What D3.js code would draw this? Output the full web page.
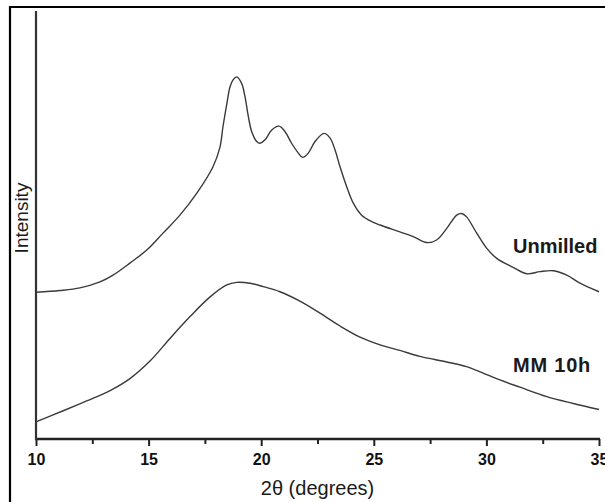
<!DOCTYPE html>
<html>
<head>
<meta charset="utf-8">
<script src="https://cdn.jsdelivr.net/npm/d3@7"></script>
<style>
  html, body { margin: 0; padding: 0; background: #fff; }
  svg { display: block; font-family: "Liberation Sans", Arial, Helvetica, sans-serif; }
</style>
</head>
<body>
<svg id="chart" width="605" height="502"></svg>
<script>
// 2θ positions (degrees) and intensities (arbitrary units)
const unmilledTheta = [10.00, 11.07, 11.95, 12.84, 13.42, 14.17, 14.93, 15.64, 16.39, 17.15, 17.86, 18.17, 18.30, 18.48, 18.61, 18.75, 18.91, 19.13, 19.28, 19.43, 19.58, 19.80, 19.95, 20.17, 20.47, 20.79, 21.06, 21.35, 21.65, 21.84, 22.09, 22.39, 22.79, 23.06, 23.28, 23.50, 23.80, 24.09, 24.46, 24.91, 25.28, 26.16, 26.75, 27.35, 27.79, 28.24, 28.68, 28.90, 29.12, 29.57, 30.01, 30.46, 31.19, 31.79, 32.38, 32.97, 33.57, 34.16, 35.00];
const unmilledIntensity = [343, 347, 353, 367, 383, 411, 442, 481, 523, 575, 636, 682, 729, 785, 822, 839, 846, 831, 800, 753, 718, 695, 691, 699, 722, 731, 718, 691, 668, 658, 668, 695, 714, 703, 675, 636, 589, 551, 523, 508, 500, 484, 473, 459, 465, 492, 523, 527, 519, 481, 446, 422, 401, 386, 391, 393, 383, 364, 344];

const milledTheta = [10.00, 11.21, 12.25, 13.29, 14.17, 15.06, 15.95, 16.84, 17.73, 18.47, 18.91, 19.50, 20.09, 20.83, 21.72, 22.61, 23.50, 24.39, 25.28, 26.16, 27.05, 28.24, 29.12, 29.72, 30.60, 31.49, 32.68, 33.86, 35.00];
const milledIntensity = [40, 66, 89, 113, 141, 182, 235, 286, 332, 360, 366, 364, 356, 344, 322, 294, 264, 238, 220, 207, 193, 180, 169, 157, 138, 121, 99, 83, 69];

const seriesLabels = ["Unmilled", "MM 10h"];
const majorTicks = [10, 15, 20, 25, 30, 35];
const minorTicks = [12.5, 17.5, 22.5, 27.5, 32.5];
const xTitle = "2θ (degrees)";
const yTitle = "Intensity";

const svg = d3.select("#chart");

const x = d3.scaleLinear().domain([10, 35]).range([36, 599]);
const y = d3.scaleLinear().domain([0, 1000]).range([439, 11]);

// frame (left and top edges of the figure)
svg.append("line").attr("x1", 10).attr("x2", 10).attr("y1", 6).attr("y2", 502)
  .attr("stroke", "#000").attr("stroke-width", 2.2);
svg.append("line").attr("x1", 9).attr("x2", 605).attr("y1", 7).attr("y2", 7)
  .attr("stroke", "#000").attr("stroke-width", 2.2);

// x axis
const axisColor = "#222";
const gx = svg.append("g").attr("transform", `translate(0,${y(0)})`);
gx.call(d3.axisBottom(x).tickValues(majorTicks).tickSize(7).tickFormat(d3.format("d")));
gx.select(".domain").remove();
gx.selectAll(".tick line").attr("stroke", axisColor).attr("stroke-width", 2);
gx.selectAll(".tick text")
  .attr("fill", "#111").attr("font-size", 16).attr("font-weight", "bold")
  .attr("dy", null).attr("y", 26);
const gxm = svg.append("g").attr("transform", `translate(0,${y(0)})`);
gxm.call(d3.axisBottom(x).tickValues(minorTicks).tickSize(5).tickFormat(""));
gxm.select(".domain").remove();
gxm.selectAll(".tick line").attr("stroke", axisColor).attr("stroke-width", 2);
svg.append("line").attr("x1", x(10) - 1).attr("x2", x(35) + 1).attr("y1", y(0)).attr("y2", y(0))
  .attr("stroke", axisColor).attr("stroke-width", 2.6);

// y axis (no ticks)
svg.append("line").attr("x1", x(10)).attr("x2", x(10)).attr("y1", y(0) + 1).attr("y2", y(1000))
  .attr("stroke", "#333").attr("stroke-width", 2.2);

// curves
const line = d3.line().x(d => x(d[0])).y(d => y(d[1])).curve(d3.curveCatmullRom.alpha(0.5));
const unmilled = unmilledTheta.map((t, i) => [t, unmilledIntensity[i]]);
const milled = milledTheta.map((t, i) => [t, milledIntensity[i]]);
[unmilled, milled].forEach(data => {
  svg.append("path").datum(data).attr("d", line)
    .attr("fill", "none").attr("stroke", "#3a3a3a").attr("stroke-width", 1.4);
});

// series labels
svg.append("text").attr("x", 513).attr("y", 253).text(seriesLabels[0])
  .attr("font-size", 20).attr("font-weight", "bold").attr("fill", "#1a1a1a");
svg.append("text").attr("x", 513).attr("y", 372).text(seriesLabels[1])
  .attr("font-size", 20).attr("font-weight", "bold").attr("fill", "#1a1a1a")
  .attr("letter-spacing", 0.8);

// axis titles
svg.append("text").attr("x", (x(10) + x(35)) / 2).attr("y", 495).attr("text-anchor", "middle")
  .attr("font-size", 20).attr("fill", "#1a1a1a").text(xTitle);
svg.append("text").attr("transform", "translate(28,218) rotate(-90)").attr("text-anchor", "middle")
  .attr("font-size", 19).attr("fill", "#1a1a1a").text(yTitle);
</script>
</body>
</html>
